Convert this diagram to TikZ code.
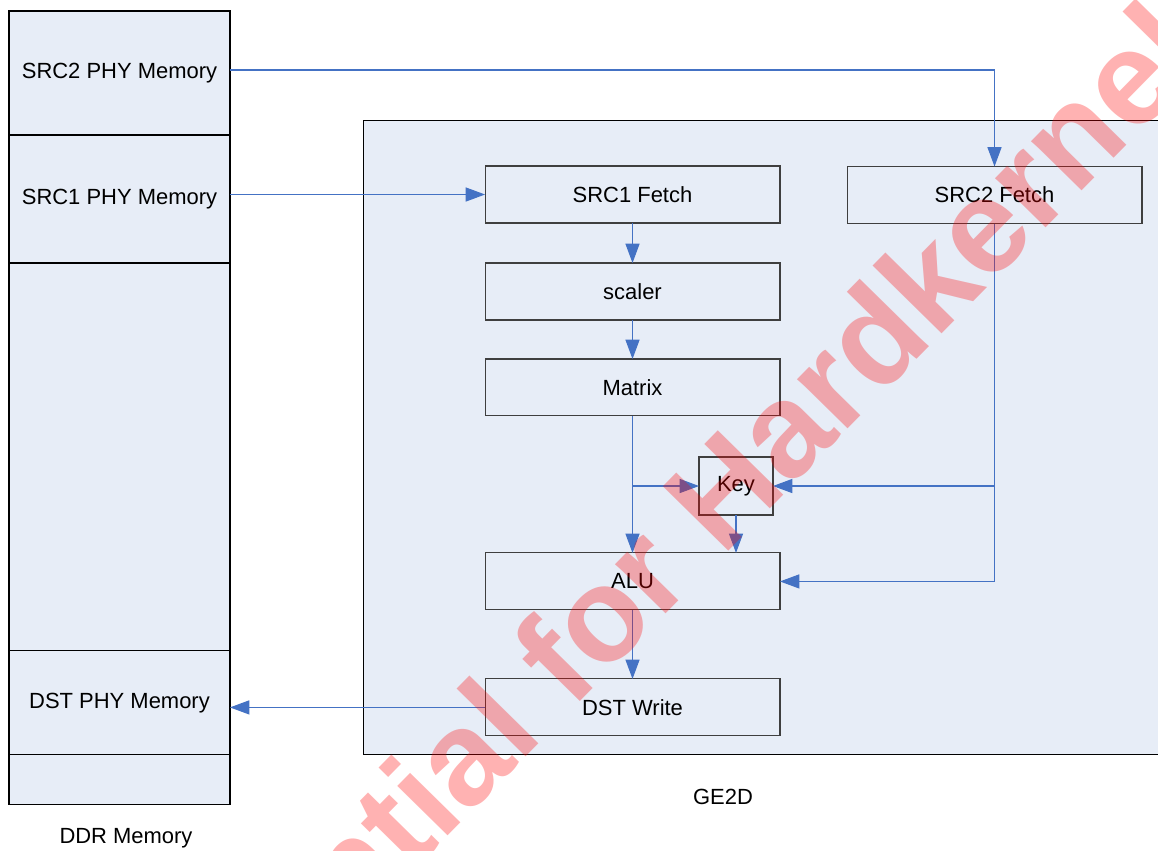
\documentclass[tikz,border=0pt]{standalone}
\usepackage{fontspec}
\setmainfont{Liberation Sans}
\usetikzlibrary{arrows.meta,positioning}
\definecolor{boxfill}{HTML}{E7EDF7}
\definecolor{linkblue}{HTML}{4472C4}
\definecolor{edgegray}{HTML}{3F3F3F}
\tikzset{
  blk/.style={draw=edgegray,fill=boxfill,font=\fontsize{12.5}{14}\selectfont,
              minimum width=5.9cm,minimum height=1.14cm,inner sep=0pt,outer sep=0pt,line width=0.6pt},
  mem/.style={blk,draw=black,minimum width=4.42cm},
  lbl/.style={font=\fontsize{12.5}{14}\selectfont,inner sep=0pt},
  arr/.style={-{Triangle[length=11pt,width=8pt]},line width=0.6pt,linkblue},
  stamp/.style={font=\bfseries\fontsize{76}{80}\selectfont,text=red,text opacity=0.3,rotate=45.5,inner sep=0pt},
}
\begin{document}
\begin{tikzpicture}[x=0.02cm,y=-0.02cm]
\useasboundingbox (0,0) rectangle (1158,850);
% DDR memory column
\node[mem,minimum height=2.48cm] (src2mem) at (119.5,73) {SRC2 PHY Memory};
\node[mem,minimum height=2.56cm,below=0pt of src2mem] (src1mem) {SRC1 PHY Memory};
\node[mem,minimum height=7.76cm,below=0pt of src1mem] (freemem) {};
\node[mem,minimum height=2.08cm,below=0pt of freemem] (dstmem) {DST PHY Memory};
\node[mem,minimum height=1cm,below=0pt of dstmem] (tailmem) {};
\node[lbl] (ddrlbl) at (126,838) {DDR Memory};
% GE2D block
\node[blk,draw=black,minimum width=16.14cm,minimum height=12.7cm] (ge2d) at (766.5,437.5) {};
\node[lbl] (ge2dlbl) at (723,797) {GE2D};
\node[blk] (fetch1) at (632.5,194.5) {SRC1 Fetch};
\node[blk] (fetch2) at (994.5,195) {SRC2 Fetch};
\node[blk,below=0.8cm of fetch1] (scaler) {scaler};
\node[blk,below=0.78cm of scaler] (matrix) {Matrix};
\node[blk,below=2.74cm of matrix] (alu) {ALU};
\node[blk,below=1.38cm of alu] (dstwrite) {DST Write};
\node[blk,minimum width=1.48cm,minimum height=1.16cm] (key) at (736,486) {Key};
% connectors
\draw[arr] ([yshift=0.06cm]src2mem.east) -| (fetch2.north);
\draw[arr] (src1mem.east |- fetch1.west) -- (fetch1.west);
\draw[arr] (fetch1.south) -- (scaler.north);
\draw[arr] (scaler.south) -- (matrix.north);
\draw[arr] (matrix.south) -- (alu.north);
\draw[arr] (matrix.south |- key.west) -- (key.west);
\draw[arr] (key.south) -- (key.south |- alu.north);
\draw[arr] (fetch2.south) |- (alu.east);
\draw[arr] (fetch2.south |- key.east) -- (key.east);
\draw[arr] (alu.south) -- (dstwrite.north);
\draw[arr] (dstwrite.west) -- (dstwrite.west -| dstmem.east);
% watermark
\node[stamp] (mark) at (574,640) {Confidential for Hardkernel};
\end{tikzpicture}
\end{document}
